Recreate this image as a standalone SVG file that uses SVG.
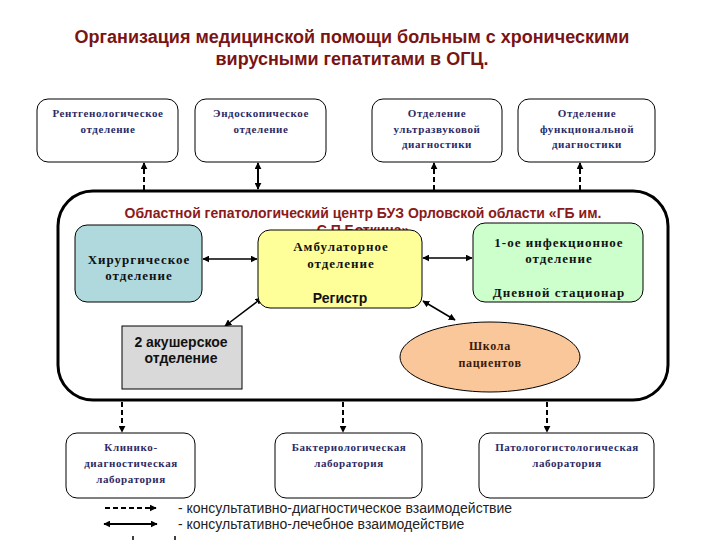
<svg xmlns="http://www.w3.org/2000/svg" width="720" height="540" viewBox="0 0 720 540">
<defs>
<marker id="ah" viewBox="0 0 10 10" refX="9" refY="5" markerWidth="7" markerHeight="7" orient="auto-start-reverse" markerUnits="userSpaceOnUse">
<path d="M0,0 L10,5 L0,10 z" fill="#000"/>
</marker>
<style>
.tb{fill:#fff;stroke:#000;stroke-width:1}
.ts{font-family:"Liberation Serif","DejaVu Serif",serif;font-weight:bold;font-size:11px;letter-spacing:0.6px;fill:#2b2b66;text-anchor:middle}
.ti{font-family:"Liberation Serif","DejaVu Serif",serif;font-weight:bold;font-size:13px;letter-spacing:1px;fill:#111;text-anchor:middle}
.te{font-family:"Liberation Serif","DejaVu Serif",serif;font-weight:bold;font-size:12px;letter-spacing:0.7px;fill:#3a1a0a;text-anchor:middle}
.sa{font-family:"Liberation Sans",Arial,sans-serif;font-weight:bold;font-size:14px;fill:#111;text-anchor:middle}
.title{font-family:"Liberation Sans",Arial,sans-serif;font-weight:bold;font-size:18px;fill:#7a1414;text-anchor:middle}
.ft{font-family:"Liberation Sans",Arial,sans-serif;font-weight:bold;font-size:14px;fill:#8b1a1a;text-anchor:middle}
.lg{font-family:"Liberation Sans",Arial,sans-serif;font-size:14px;fill:#222}
.dash{stroke:#000;stroke-width:2;stroke-dasharray:5,3;fill:none}
.sol{stroke:#000;stroke-width:2;fill:none}
.thin{stroke:#000;stroke-width:1.5;fill:none}
</style>
</defs>
<rect width="720" height="540" fill="#fff"/>

<g id="title">
<text class="title" x="352" y="43">Организация медицинской помощи больным с хроническими</text>
<text class="title" x="352" y="65">вирусными гепатитами в ОГЦ.</text>
</g>

<g id="frame">
<rect x="58" y="191" width="610" height="209" rx="35" ry="35" fill="#fff" stroke="#000" stroke-width="3"/>
<text class="ft" x="363" y="218">Областной гепатологический центр БУЗ Орловской области «ГБ им.</text>
<text class="ft" x="363" y="235">С.П.Боткина»</text>
</g>

<g id="connectors">
<line class="dash" x1="144" y1="190" x2="144" y2="163" marker-end="url(#ah)"/>
<line class="sol" x1="258" y1="189" x2="258" y2="163" marker-start="url(#ah)" marker-end="url(#ah)"/>
<line class="dash" x1="434" y1="190" x2="434" y2="163" marker-end="url(#ah)"/>
<line class="dash" x1="580" y1="190" x2="580" y2="163" marker-end="url(#ah)"/>
<line class="thin" x1="203" y1="259" x2="257" y2="259" marker-start="url(#ah)" marker-end="url(#ah)"/>
<line class="thin" x1="423" y1="258" x2="472" y2="258" marker-start="url(#ah)" marker-end="url(#ah)"/>
<line class="thin" x1="262" y1="298" x2="225" y2="326" marker-start="url(#ah)" marker-end="url(#ah)"/>
<line class="thin" x1="423" y1="301" x2="455" y2="320" marker-start="url(#ah)" marker-end="url(#ah)"/>
<line class="dash" x1="122" y1="402" x2="122" y2="432" marker-end="url(#ah)"/>
<line class="dash" x1="343" y1="402" x2="343" y2="432" marker-end="url(#ah)"/>
<line class="dash" x1="547" y1="402" x2="547" y2="432" marker-end="url(#ah)"/>
</g>

<g id="n-rentgen">
<rect class="tb" x="37" y="99" width="141" height="63" rx="11"/>
<text class="ts" x="108" y="117">Рентгенологическое</text>
<text class="ts" x="108" y="133">отделение</text>
</g>
<g id="n-endo">
<rect class="tb" x="195" y="99" width="131" height="63" rx="11"/>
<text class="ts" x="261" y="117">Эндоскопическое</text>
<text class="ts" x="261" y="133">отделение</text>
</g>
<g id="n-uzi">
<rect class="tb" x="372" y="99" width="130" height="63" rx="11"/>
<text class="ts" x="437" y="117">Отделение</text>
<text class="ts" x="437" y="133">ультразвуковой</text>
<text class="ts" x="437" y="148">диагностики</text>
</g>
<g id="n-func">
<rect class="tb" x="518" y="99" width="137" height="63" rx="11"/>
<text class="ts" x="587" y="117">Отделение</text>
<text class="ts" x="587" y="133">функциональной</text>
<text class="ts" x="587" y="148">диагностики</text>
</g>

<g id="n-hir">
<rect x="75" y="225" width="127" height="77" rx="12" fill="#b0d9de" stroke="#000" stroke-width="1"/>
<text class="ti" x="139" y="264">Хирургическое</text>
<text class="ti" x="139" y="280">отделение</text>
</g>
<g id="n-amb">
<rect x="258" y="230" width="164" height="78" rx="12" fill="#ffff99" stroke="#000" stroke-width="1"/>
<text class="ti" x="341" y="251">Амбулаторное</text>
<text class="ti" x="341" y="268">отделение</text>
<text class="sa" x="340" y="303">Регистр</text>
</g>
<g id="n-inf">
<rect x="473" y="223" width="170" height="79" rx="12" fill="#ccffcc" stroke="#000" stroke-width="1"/>
<text class="ti" x="559" y="247">1-ое инфекционное</text>
<text class="ti" x="559" y="263">отделение</text>
<text class="ti" x="559" y="297">Дневной стационар</text>
</g>
<g id="n-akush">
<rect x="122" y="326" width="120" height="63" fill="#d9d9d9" stroke="#000" stroke-width="1"/>
<text class="sa" x="181" y="347">2 акушерское</text>
<text class="sa" x="181" y="363">отделение</text>
</g>
<g id="n-school">
<ellipse cx="490" cy="357" rx="90" ry="35" fill="#fac79a" stroke="#000" stroke-width="1"/>
<text class="te" x="490" y="350">Школа</text>
<text class="te" x="490" y="367">пациентов</text>
</g>

<g id="n-klin">
<rect class="tb" x="66" y="433" width="129" height="65" rx="11"/>
<text class="ts" x="131" y="451">Клинико-</text>
<text class="ts" x="131" y="467">диагностическая</text>
<text class="ts" x="131" y="483">лаборатория</text>
</g>
<g id="n-bakt">
<rect class="tb" x="275" y="433" width="147" height="65" rx="11"/>
<text class="ts" x="349" y="451">Бактериологическая</text>
<text class="ts" x="349" y="467">лаборатория</text>
</g>
<g id="n-pat">
<rect class="tb" x="479" y="433" width="175" height="65" rx="11"/>
<text class="ts" x="567" y="451">Патологогистологическая</text>
<text class="ts" x="567" y="467">лаборатория</text>
</g>

<g id="legend">
<line class="dash" x1="105" y1="508" x2="156" y2="508" marker-end="url(#ah)"/>
<text class="lg" x="178" y="513">- консультативно-диагностическое взаимодействие</text>
<line class="sol" x1="104" y1="524" x2="157" y2="524" marker-start="url(#ah)" marker-end="url(#ah)"/>
<text class="lg" x="178" y="529">- консультативно-лечебное взаимодействие</text>
<line stroke="#000" stroke-width="1.5" x1="133" y1="536" x2="133" y2="540"/>
<line stroke="#000" stroke-width="1.5" x1="175" y1="536" x2="175" y2="540"/>
</g>
</svg>
